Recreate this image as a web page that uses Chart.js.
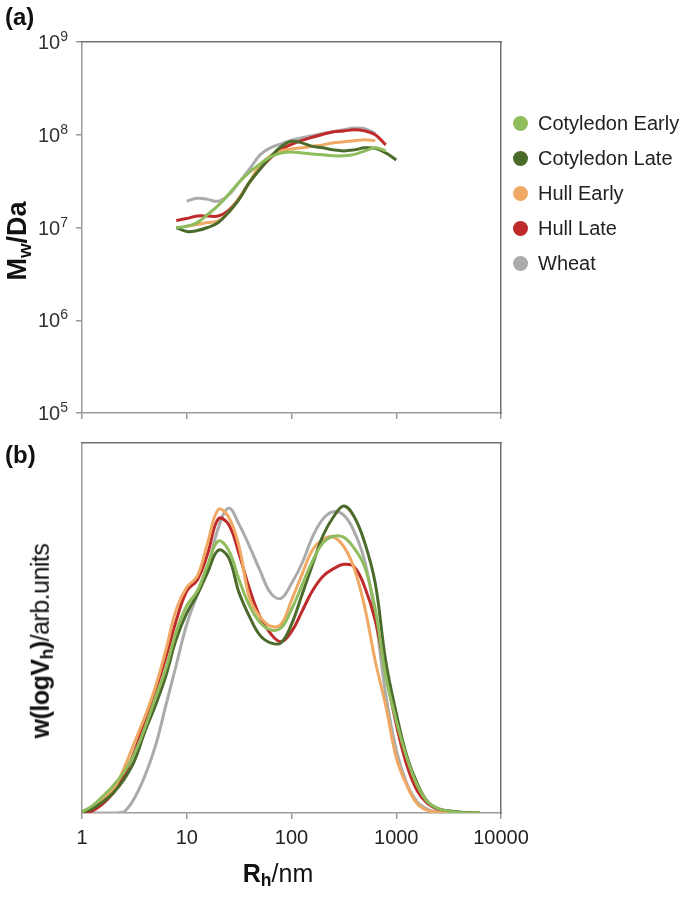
<!DOCTYPE html>
<html>
<head>
<meta charset="utf-8">
<script src="https://cdn.jsdelivr.net/npm/chart.js@4.4.1/dist/chart.umd.min.js"></script>
<style>
  body { margin: 0; background: #fff; font-family: "Liberation Sans", Arial, sans-serif; color: #111; }
  #wrap { position: relative; width: 685px; height: 897px; overflow: hidden; }
  canvas { position: absolute; left: 0; }
  .panel { position: absolute; left: 5px; font-weight: bold; font-size: 24px; }
  .ytitle { position: absolute; white-space: nowrap; transform: translate(-50%, -50%) rotate(-90deg); }
  .ytitle sub, .xtitle sub { font-size: 70%; vertical-align: -0.25em; }
  .xtitle { position: absolute; white-space: nowrap; transform: translate(-50%, -50%); font-size: 25px; }
  #legend { position: absolute; left: 513px; top: 106px; }
  #legend div { height: 35px; display: flex; align-items: center; font-size: 20px; color: #222; }
  #legend span.dot { width: 15px; height: 15px; border-radius: 50%; margin-right: 10px; display: inline-block; }
</style>
</head>
<body>
<div id="wrap">
  <canvas id="chartA" width="685" height="440" style="top:0"></canvas>
  <canvas id="chartB" width="685" height="467" style="top:430px"></canvas>
  <div class="panel" style="top:3px">(a)</div>
  <div class="panel" style="top:441px">(b)</div>
  <div class="ytitle" style="left:19px; top:241px; font-size:27px; font-weight:bold">M<sub>w</sub>/Da</div>
  <div class="ytitle" style="left:42px; top:641px; font-size:25px; letter-spacing:-0.5px"><b>w(logV<sub>h</sub>)</b>/arb.units</div>
  <div class="xtitle" style="left:278px; top:875px"><b>R<sub>h</sub></b>/nm</div>
  <div id="legend"></div>
</div>
<script>
// series
const names = ["Cotyledon Early", "Cotyledon Late", "Hull Early", "Hull Late", "Wheat"];
const colors = ["#8fbc5c", "#4b6b2b", "#efa965", "#bf2a2a", "#ababab"];

// (a) Mw vs Rh
const rhA = [7.94, 10, 12.6, 15.8, 20, 25.1, 31.6, 39.8, 50.1, 63.1, 79.4, 100, 126, 158, 200, 251, 316, 398, 501, 631, 794, 1000];
const cotEarlyMw = [1.0e7, 1.03e7, 1.13e7, 1.38e7, 1.73e7, 2.28e7, 3.08e7, 3.96e7, 4.84e7, 5.77e7, 6.37e7, 6.53e7, 6.37e7, 6.21e7, 6.07e7, 5.92e7, 5.92e7, 6.14e7, 6.70e7, 7.23e7, 6.70e7, null];
const cotLateMw = [1.0e7, 9.06e6, 9.27e6, 1.0e7, 1.13e7, 1.46e7, 2.01e7, 3.08e7, 4.27e7, 5.77e7, 7.41e7, 8.50e7, 8.18e7, 7.50e7, 7.23e7, 6.87e7, 6.70e7, 6.87e7, 7.23e7, 7.13e7, 6.37e7, 5.35e7];
const hullEarlyMw = [null, 1.03e7, 1.08e7, 1.13e7, 1.18e7, 1.46e7, 2.07e7, 3.08e7, 4.72e7, 5.92e7, 6.70e7, 7.04e7, 7.23e7, 7.50e7, 7.78e7, 8.18e7, 8.39e7, 8.61e7, 8.83e7, 8.61e7, null, null];
const hullLateMw = [1.19e7, 1.25e7, 1.33e7, 1.33e7, 1.33e7, 1.53e7, 2.07e7, 3.08e7, 4.27e7, 5.62e7, 6.95e7, 7.89e7, 8.71e7, 9.39e7, 1.01e8, 1.08e8, 1.10e8, 1.13e8, 1.10e8, 1.0e8, 7.78e7, null];
const wheatMw = [null, 1.92e7, 2.07e7, 2.01e7, 1.92e7, 2.23e7, 3.08e7, 4.27e7, 6.07e7, 7.23e7, 7.98e7, 8.71e7, 9.27e7, 9.75e7, 1.03e8, 1.08e8, 1.13e8, 1.18e8, 1.16e8, 1.03e8, null, null];

// (b) w(logVh) vs Rh
const rhB = [1, 1.26, 1.58, 2.0, 2.51, 3.16, 3.98, 5.01, 6.31, 7.94, 10, 12.6, 15.8, 20, 25.1, 31.6, 39.8, 50.1, 63.1, 79.4, 100, 126, 158, 200, 251, 316, 398, 501, 631, 794, 1000, 1259, 1585, 1995, 2512, 3162, 3981, 5012, 6310];
const cotEarlyW = [0.003, 0.02, 0.045, 0.075, 0.11, 0.16, 0.23, 0.31, 0.39, 0.49, 0.56, 0.60, 0.67, 0.735, 0.71, 0.63, 0.56, 0.515, 0.495, 0.50, 0.55, 0.615, 0.68, 0.73, 0.748, 0.745, 0.715, 0.665, 0.55, 0.37, 0.25, 0.15, 0.075, 0.03, 0.012, 0.005, 0.002, 0, 0];
const cotLateW = [0.003, 0.012, 0.03, 0.055, 0.09, 0.14, 0.22, 0.29, 0.37, 0.47, 0.54, 0.59, 0.65, 0.71, 0.69, 0.595, 0.53, 0.48, 0.46, 0.46, 0.51, 0.59, 0.67, 0.75, 0.80, 0.83, 0.80, 0.73, 0.62, 0.41, 0.27, 0.155, 0.08, 0.03, 0.012, 0.006, 0.003, 0.001, 0];
const hullEarlyW = [0.005, 0.015, 0.035, 0.065, 0.12, 0.19, 0.26, 0.34, 0.44, 0.55, 0.61, 0.64, 0.73, 0.82, 0.80, 0.72, 0.58, 0.53, 0.505, 0.51, 0.575, 0.645, 0.71, 0.74, 0.746, 0.72, 0.66, 0.555, 0.41, 0.29, 0.15, 0.075, 0.025, 0.007, 0.002, 0, 0, 0, 0];
const hullLateW = [0, 0.006, 0.025, 0.055, 0.10, 0.165, 0.25, 0.33, 0.42, 0.52, 0.60, 0.63, 0.70, 0.795, 0.78, 0.70, 0.605, 0.53, 0.485, 0.463, 0.49, 0.545, 0.60, 0.64, 0.66, 0.672, 0.665, 0.61, 0.52, 0.38, 0.24, 0.13, 0.06, 0.025, 0.01, 0.005, 0.002, 0, 0];
const wheatW = [0, 0, 0, 0, 0.003, 0.04, 0.10, 0.18, 0.29, 0.40, 0.51, 0.59, 0.66, 0.77, 0.824, 0.78, 0.72, 0.655, 0.595, 0.58, 0.62, 0.675, 0.745, 0.795, 0.814, 0.805, 0.76, 0.68, 0.53, 0.32, 0.17, 0.08, 0.03, 0.01, 0.003, 0, 0, 0, 0];

const xTicks = [1, 10, 100, 1000, 10000];
const yTicksA = [1e5, 1e6, 1e7, 1e8, 1e9];

const FONT = "'Liberation Sans', Arial, sans-serif";
const AXIS = "#9a9a9a";
const FRAME = "#707070";

function makeSets(xs, series) {
  return series.map((ys, i) => ({
    label: names[i],
    data: xs.map((x, j) => ({ x: x, y: ys[j] })),
    borderColor: colors[i],
    borderWidth: 3,
    pointRadius: 0,
    fill: false,
    tension: 0.4,
    spanGaps: false,
  }));
}

// frame scales (top + right edge of the box)
function frameScales(xMin, xMax, yType, yMin, yMax) {
  return {
    x2: {
      type: "logarithmic", position: "top", min: xMin, max: xMax,
      grid: { display: false }, ticks: { display: false },
      border: { display: true, color: FRAME, width: 1.5 },
      afterFit: (s) => { s.height = 0; },
    },
    y2: {
      type: yType, position: "right", min: yMin, max: yMax,
      grid: { display: false }, ticks: { display: false },
      border: { display: true, color: FRAME, width: 1.5 },
      afterFit: (s) => { s.width = 0; },
    },
  };
}

// 10^n labels with a real superscript size
const powerLabels = {
  id: "powerLabels",
  afterDraw(chart) {
    const s = chart.scales.y;
    const ctx = chart.ctx;
    const right = s.right - 14;
    ctx.save();
    ctx.fillStyle = "#333";
    ctx.textAlign = "right";
    ctx.textBaseline = "alphabetic";
    s.ticks.forEach((t) => {
      const y = s.getPixelForValue(t.value);
      const exp = String(Math.round(Math.log10(t.value)));
      ctx.font = "14px " + FONT;
      const ew = ctx.measureText(exp).width;
      ctx.fillText(exp, right, y - 1);
      ctx.font = "20px " + FONT;
      ctx.fillText("10", right - ew, y + 7);
    });
    ctx.restore();
  },
};

// legend (html)
const legendEl = document.getElementById("legend");
names.forEach((n, i) => {
  const row = document.createElement("div");
  row.innerHTML = '<span class="dot" style="background:' + colors[i] + '"></span>' + n;
  legendEl.appendChild(row);
});

// chart (a)
new Chart(document.getElementById("chartA"), {
  type: "line",
  data: { datasets: makeSets(rhA, [cotEarlyMw, cotLateMw, hullEarlyMw, hullLateMw, wheatMw]) },
  plugins: [powerLabels],
  options: {
    responsive: false,
    animation: false,
    layout: { padding: { top: 42, right: 184, left: 0, bottom: 0 } },
    plugins: { legend: { display: false }, tooltip: { enabled: false } },
    scales: {
      x: {
        type: "logarithmic", min: 1, max: 10000,
        afterBuildTicks: (s) => { s.ticks = xTicks.map((v) => ({ value: v })); },
        grid: { display: true, drawOnChartArea: false, drawTicks: true, tickLength: 6, color: AXIS, lineWidth: 1.5 },
        ticks: { display: false },
        border: { display: true, color: AXIS, width: 1.5 },
        afterFit: (s) => { s.height = 27; },
      },
      y: {
        type: "logarithmic", min: 1e5, max: 1e9,
        afterBuildTicks: (s) => { s.ticks = yTicksA.map((v) => ({ value: v })); },
        grid: { display: true, drawOnChartArea: false, drawTicks: true, tickLength: 6, color: AXIS, lineWidth: 1.5 },
        ticks: { display: false },
        border: { display: true, color: AXIS, width: 1.5 },
        afterFit: (s) => { s.width = 82; },
      },
      ...frameScales(1, 10000, "logarithmic", 1e5, 1e9),
    },
  },
});

// chart (b)
new Chart(document.getElementById("chartB"), {
  type: "line",
  data: { datasets: makeSets(rhB, [cotEarlyW, cotLateW, hullEarlyW, hullLateW, wheatW]) },
  options: {
    responsive: false,
    animation: false,
    layout: { padding: { top: 13, right: 184, left: 0, bottom: 0 } },
    plugins: { legend: { display: false }, tooltip: { enabled: false } },
    scales: {
      x: {
        type: "logarithmic", min: 1, max: 10000,
        afterBuildTicks: (s) => { s.ticks = xTicks.map((v) => ({ value: v })); },
        grid: { display: true, drawOnChartArea: false, drawTicks: true, tickLength: 6, color: AXIS, lineWidth: 1.5 },
        ticks: {
          padding: 7, color: "#222", maxRotation: 0, autoSkip: false,
          font: { family: FONT, size: 20 },
          callback: (v) => String(v),
        },
        border: { display: true, color: AXIS, width: 1.5 },
        afterFit: (s) => { s.height = 84; },
      },
      y: {
        type: "linear", min: 0, max: 1,
        grid: { display: false },
        ticks: { display: false },
        border: { display: true, color: AXIS, width: 1.5 },
        afterFit: (s) => { s.width = 82; },
      },
      ...frameScales(1, 10000, "linear", 0, 1),
    },
  },
});
</script>
</body>
</html>
